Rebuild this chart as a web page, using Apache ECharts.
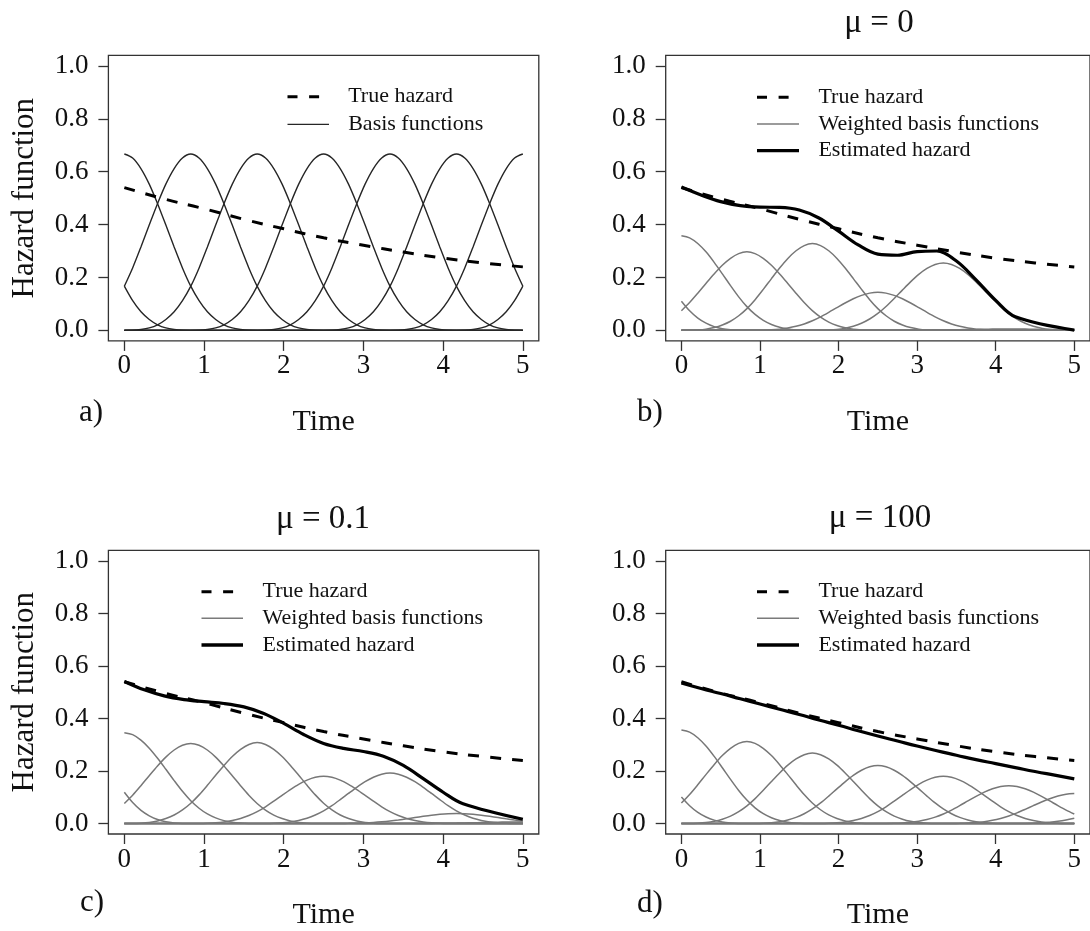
<!DOCTYPE html>
<html><head><meta charset="utf-8">
<script src="https://cdn.jsdelivr.net/npm/echarts@6/dist/echarts.min.js"></script>
<style>html,body{margin:0;padding:0;background:#fff}#chart{width:1090px;height:931px}</style>
</head><body><div id="chart"></div>
<script>
// ---------------- data ----------------
const xTickValues = [0, 1, 2, 3, 4, 5];
const yTickValues = [0, 0.2, 0.4, 0.6, 0.8, 1.0];
const panelLetters = ['a)', 'b)', 'c)', 'd)'];
const panelTitles = ['', 'μ = 0', 'μ = 0.1', 'μ = 100'];

// centres of the nine basis functions (panel a)
const basisCentres = [-0.833, 0, 0.833, 1.667, 2.5, 3.333, 4.167, 5, 5.833];
// one basis function as read in panel a: offsets from its centre and heights
const basisOffsets = [-1.667, -1.5625, -1.458, -1.354, -1.25, -1.146, -1.042, -0.9375, -0.833,
                      -0.729, -0.625, -0.521, -0.417, -0.3125, -0.208, -0.104, 0,
                      0.104, 0.208, 0.3125, 0.417, 0.521, 0.625, 0.729, 0.833,
                      0.9375, 1.042, 1.146, 1.25, 1.354, 1.458, 1.5625, 1.667];
const basisProfile = [0, 0.0003, 0.003, 0.009, 0.021, 0.041, 0.070, 0.112, 0.167,
                      0.236, 0.315, 0.398, 0.479, 0.553, 0.612, 0.652, 0.667,
                      0.652, 0.612, 0.553, 0.479, 0.398, 0.315, 0.236, 0.167,
                      0.112, 0.070, 0.041, 0.021, 0.009, 0.003, 0.0003, 0];

// peak heights of the weighted basis functions (same centres)
const weightedPeaksB = [0.44, 0.358, 0.297, 0.328, 0.144, 0.255, 0.005, 0, 0];
const weightedPeaksC = [0.476, 0.346, 0.305, 0.308, 0.18, 0.192, 0.038, 0.006, 0];
const weightedPeaksD = [0.404, 0.356, 0.312, 0.268, 0.221, 0.18, 0.144, 0.114, 0.08];

// true hazard (dashed)
const trueTime = [0, 0.5, 1, 1.5, 2, 2.5, 3, 3.5, 4, 4.5, 5];
const trueHazard = [0.540, 0.497, 0.460, 0.420, 0.384, 0.350, 0.322, 0.296, 0.273, 0.255, 0.240];

// estimated hazards (thick black)
const estTimeBC = [0, 0.25, 0.5, 0.75, 1, 1.25, 1.5, 1.75, 2, 2.25, 2.5, 2.75, 3, 3.25, 3.5, 3.75, 4, 4.25, 5];
const estHazardB = [0.542, 0.512, 0.487, 0.472, 0.466, 0.465, 0.455, 0.425, 0.375, 0.323, 0.288, 0.284, 0.298, 0.300, 0.262, 0.191, 0.113, 0.051, 0.001];
const estHazardC = [0.541, 0.509, 0.486, 0.472, 0.464, 0.457, 0.444, 0.419, 0.381, 0.339, 0.305, 0.286, 0.274, 0.256, 0.221, 0.171, 0.119, 0.075, 0.016];
const estTimeD = [0, 0.25, 0.5, 0.75, 1, 1.25, 1.5, 1.75, 2, 2.25, 2.5, 2.75, 3, 3.25, 3.5, 3.75, 4, 4.25, 4.5, 4.75, 5];
const estHazardD = [0.535, 0.514, 0.495, 0.475, 0.455, 0.435, 0.415, 0.394, 0.374, 0.353, 0.333, 0.314, 0.295, 0.277, 0.260, 0.243, 0.228, 0.213, 0.198, 0.184, 0.170];

// ---------------- layout / style ----------------
const FONT = "'Liberation Serif', 'Times New Roman', serif";
const TXT = '#111';
const GRIDS = [
  { left: 108.4, top: 55.4 },
  { left: 665.7, top: 55.4 },
  { left: 108.4, top: 550.4 },
  { left: 665.7, top: 550.4 }
];
const GW = 430.4, GH = 285.5;

function zip(xs, ys) { return xs.map((x, i) => [x, ys[i]]); }

function bumpPoints(centre, peak) {
  const scale = peak / basisProfile[16];
  const pts = [];
  const first = centre + basisOffsets[0];
  const last = centre + basisOffsets[basisOffsets.length - 1];
  if (first > 0) pts.push([0, 0]);
  basisOffsets.forEach((off, i) => {
    const x = +(centre + off).toFixed(4);
    if (x >= -1e-6 && x <= 5 + 1e-6) pts.push([x, basisProfile[i] * scale]);
  });
  if (last < 5) pts.push([5, 0]);
  return pts;
}

const grids = GRIDS.map(g => ({
  left: g.left, top: g.top, width: GW, height: GH,
  show: true, borderColor: '#333', borderWidth: 1.3, backgroundColor: 'transparent'
}));

const xAxes = GRIDS.map((g, k) => ({
  type: 'value', gridIndex: k, min: -0.2, max: 5.2,
  axisLine: { show: false, onZero: false },
  splitLine: { show: false },
  axisTick: { show: true, inside: false, length: 10, customValues: xTickValues, lineStyle: { color: '#333', width: 1.3 } },
  axisLabel: { customValues: xTickValues, fontFamily: FONT, fontSize: 27, color: TXT, margin: 12 },
  name: 'Time', nameLocation: 'middle', nameGap: 66,
  nameTextStyle: { fontFamily: FONT, fontSize: 30, color: TXT }
}));

const yAxes = GRIDS.map((g, k) => ({
  type: 'value', gridIndex: k, min: -0.04, max: 1.04,
  axisLine: { show: false, onZero: false },
  splitLine: { show: false },
  axisTick: { show: true, inside: false, length: 10, customValues: yTickValues, lineStyle: { color: '#333', width: 1.3 } },
  axisLabel: { customValues: yTickValues, fontFamily: FONT, fontSize: 27, color: TXT, margin: 20,
               formatter: v => v.toFixed(1) },
  name: (k === 0 || k === 2) ? 'Hazard function' : '',
  nameLocation: 'middle', nameRotate: 90, nameGap: 68,
  nameTextStyle: { fontFamily: FONT, fontSize: 31, color: TXT }
}));

const series = [];
const peaksByPanel = [basisCentres.map(() => basisProfile[16]), weightedPeaksB, weightedPeaksC, weightedPeaksD];
peaksByPanel.forEach((peaks, k) => {
  basisCentres.forEach((c, j) => {
    series.push({
      type: 'line', name: k === 0 ? 'Basis functions' : 'Weighted basis functions',
      xAxisIndex: k, yAxisIndex: k, data: bumpPoints(c, peaks[j]),
      smooth: 0.3, symbol: 'none', silent: true,
      lineStyle: k === 0 ? { color: '#262626', width: 1.4 } : { color: '#777', width: 1.5 }
    });
  });
  series.push({
    type: 'line', name: 'True hazard', xAxisIndex: k, yAxisIndex: k,
    data: zip(trueTime, trueHazard), smooth: 0.5, symbol: 'none', silent: true,
    lineStyle: { color: '#000', width: 3, type: [11, 11] }
  });
});
[[estTimeBC, estHazardB, 1, 0.35], [estTimeBC, estHazardC, 2, 0.35], [estTimeD, estHazardD, 3, 0.5]].forEach(([t, h, k, s]) => {
  series.push({
    type: 'line', name: 'Estimated hazard', xAxisIndex: k, yAxisIndex: k,
    data: zip(t, h), smooth: s, symbol: 'none', silent: true,
    lineStyle: { color: '#000', width: 3.2 }
  });
});

// ---------------- legends, titles, letters (text graphics) ----------------
const legendSpecs = [
  { x1: 287.5, x2: 329, tx: 348.2, rows: [96.7, 124.3], items: [['True hazard', 'dash'], ['Basis functions', 'basis']] },
  { x1: 757, x2: 799, tx: 818.4, rows: [97.3, 124, 150.7], items: [['True hazard', 'dash'], ['Weighted basis functions', 'grey'], ['Estimated hazard', 'thick']] },
  { x1: 201.5, x2: 243, tx: 262.5, rows: [591.7, 618.3, 645], items: [['True hazard', 'dash'], ['Weighted basis functions', 'grey'], ['Estimated hazard', 'thick']] },
  { x1: 757, x2: 799, tx: 818.4, rows: [591.7, 618.3, 645], items: [['True hazard', 'dash'], ['Weighted basis functions', 'grey'], ['Estimated hazard', 'thick']] }
];
const lineStyles = {
  dash: { stroke: '#000', lineWidth: 3, lineDash: [10, 11.6] },
  basis: { stroke: '#262626', lineWidth: 1.3 },
  grey: { stroke: '#7a7a7a', lineWidth: 1.4 },
  thick: { stroke: '#000', lineWidth: 3.3 }
};
const graphics = [];
legendSpecs.forEach(L => {
  L.items.forEach(([label, st], i) => {
    const y = L.rows[i];
    graphics.push({ type: 'line', silent: true, shape: { x1: L.x1, y1: y, x2: L.x2, y2: y }, style: lineStyles[st] });
    graphics.push({ type: 'text', silent: true, x: L.tx, y: y,
      style: { text: label, font: "22px " + FONT, fill: TXT, align: 'left', verticalAlign: 'middle' } });
  });
});
const titlePos = [null, [879, 23], [323, 519], [880, 518]];
panelTitles.forEach((t, k) => {
  if (!t) return;
  graphics.push({ type: 'text', silent: true, x: titlePos[k][0], y: titlePos[k][1],
    style: { text: t, font: "33px " + FONT, fill: TXT, align: 'center', verticalAlign: 'middle' } });
});
const letterPos = [[79, 413], [637, 413], [80, 903], [637, 904]];
panelLetters.forEach((t, k) => {
  graphics.push({ type: 'text', silent: true, x: letterPos[k][0], y: letterPos[k][1],
    style: { text: t, font: "31px " + FONT, fill: TXT, align: 'left', verticalAlign: 'middle' } });
});

const chart = echarts.init(document.getElementById('chart'), null, { renderer: 'canvas' });
chart.setOption({
  animation: false,
  backgroundColor: '#fff',
  grid: grids,
  xAxis: xAxes,
  yAxis: yAxes,
  series: series,
  graphic: graphics
});
</script></body></html>
